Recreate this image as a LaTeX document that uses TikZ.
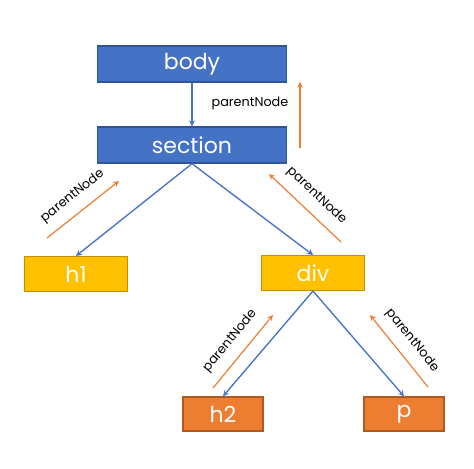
\documentclass[tikz,border=0pt]{standalone}
\usepackage{fontspec}
\setmainfont{Poppins}
\usetikzlibrary{arrows,positioning}

\definecolor{boxBlue}{HTML}{4472C4}
\definecolor{boxBlueLine}{HTML}{2F5597}
\definecolor{boxYellow}{HTML}{FFC000}
\definecolor{boxYellowLine}{HTML}{BF9000}
\definecolor{boxOrange}{HTML}{ED7D31}
\definecolor{boxOrangeLine}{HTML}{AE5A21}

\begin{document}
\begin{tikzpicture}[x=0.75pt,y=-0.75pt,>=stealth,
  tag/.style={rectangle, draw, line width=1pt, text=white, inner sep=0pt,
    font=\fontsize{16.5}{18}\selectfont},
  bluetag/.style={tag, fill=boxBlue, draw=boxBlueLine,
    minimum width=142pt, minimum height=27pt},
  yellowtag/.style={tag, fill=boxYellow, draw=boxYellowLine,
    minimum width=77pt, minimum height=26pt},
  orangetag/.style={tag, fill=boxOrange, draw=boxOrangeLine,
    minimum width=60pt, minimum height=25.5pt},
  child/.style={->, draw=boxBlue, line width=1pt},
  parent/.style={->, draw=boxOrange, line width=0.9pt},
  lbl/.style={font=\fontsize{9.6}{12}\selectfont, text=black}]

  \useasboundingbox (0,0) rectangle (474,468);

  \node[bluetag] (body) at (192,64) {body};
  \node[bluetag] (section) at (192,145) {section};
  \node[yellowtag] (h1) at (76,274) {h1};
  \node[yellowtag] (div) at (313,273) {div};
  \node[orangetag] (h2) at (223,414) {h2};
  \node[orangetag] (p) at (404,414) {p};

  \draw[child] (body) -- (section);
  \draw[child] (section.south) -- (h1.north);
  \draw[child] (section.south) -- (div.north);
  \draw[child] (div.south) -- (h2.north);
  \draw[child] (div.south) -- (p.north);

  % parentNode arrows
  \coordinate (s0) at (300,148);
  \coordinate (s1) at (300,82);
  \coordinate (a0) at (47,238);
  \coordinate (a1) at (119,181);
  \coordinate (b0) at (341,242);
  \coordinate (b1) at (269,174);
  \coordinate (c0) at (213,388);
  \coordinate (c1) at (273,315);
  \coordinate (d0) at (428,387);
  \coordinate (d1) at (370,315);

  \draw[parent] (s0) -- (s1) node[lbl, pos=0.68, left=5pt] (l0) {parentNode};
  \draw[parent] (a0) -- (a1) node[lbl, midway, sloped, above=4pt] (l1) {parentNode};
  \draw[parent] (b0) -- (b1) node[lbl, midway, sloped, above=4pt] (l2) {parentNode};
  \draw[parent] (c0) -- (c1) node[lbl, midway, sloped, above=4pt] (l3) {parentNode};
  \draw[parent] (d0) -- (d1) node[lbl, midway, sloped, above=4pt] (l4) {parentNode};
\end{tikzpicture}
\end{document}
